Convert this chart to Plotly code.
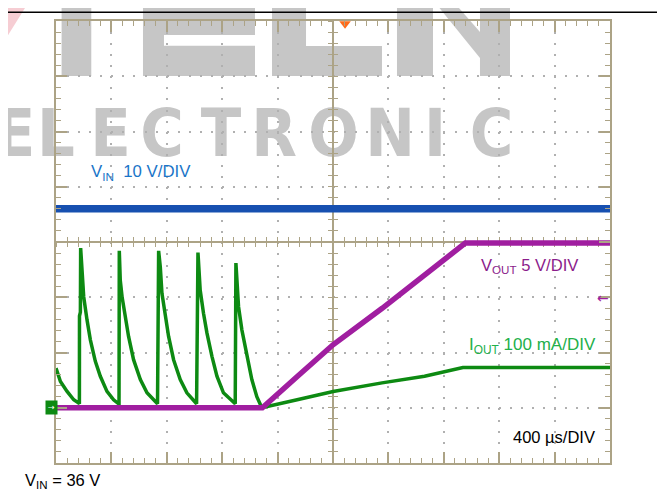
import plotly.graph_objects as go

# ---------------- data ----------------
TIME_RANGE_US = [0, 4000]      # 10 div x 400 us/div
TRIGGER_T_US = 2087

VIN_T_US = [0, 4000]
VIN_V = [36.0, 36.0]

VOUT_T_US = [0, 1490, 1740, 2000, 2355, 2665, 2955, 4000]
VOUT_V = [0, 0, 2.8, 5.7, 9.0, 12.0, 14.9, 14.9]

IOUT_T_US = [0, 32, 80, 128, 164,
             169, 169.5, 176, 178, 183, 194, 200, 224, 248, 284, 320, 368, 416, 452,
             455, 457, 464, 477, 500, 524, 560, 609, 657, 729,
             733, 741, 753, 765, 789, 813, 849, 897, 945, 1005,
             1015, 1025, 1036, 1041, 1065, 1090, 1126, 1162, 1209, 1282,
             1294, 1299, 1310, 1318, 1342, 1378, 1414, 1450, 1486,
             1741, 2001, 2354, 2661, 2938, 4000]
IOUT_MA = [71.7, 47.5, 29.5, 14.5, 8.5,
           7.2, 166, 173, 289, 264, 222, 201, 159, 123, 84, 57, 29.5, 14.5, 7.2,
           7.2, 284, 231, 201, 165, 129, 87, 51, 27, 8.5,
           7.2, 284, 255, 207, 165, 129, 87, 51, 27, 9.6,
           7.2, 281, 243, 213, 171, 135, 93, 57, 27, 8.5,
           7.2, 262, 225, 183, 141, 93, 51, 20, 0,
           14.5, 29.5, 45, 57, 73, 73]

# channel scales (per division); all grounds sit 1 div above the bottom
DIVS_Y = 8
VIN_RANGE = [-10, 70]      # 10 V/div
VOUT_RANGE = [-5, 35]      # 5 V/div
IOUT_RANGE = [-100, 700]   # 100 mA/div

WATERMARK_LETTERS = ["E", "L", "E", "C", "T", "R", "O", "N", "I", "C"]
WATERMARK_X_PX = [15, 56, 110.5, 162, 221, 274, 333.5, 390, 435, 491.5]

# ---------------- layout helpers (window pixel coords) ----------------
WIN_W, WIN_H = 665, 495
OFF = 8                       # default body margin of the html page
PL, PR, PT, PB = 56, 610, 21, 463   # plot area edges in window pixels
W, H = WIN_W - OFF, WIN_H - OFF
ML, MT = PL - OFF, PT - OFF
MR, MB = W - (PR - OFF), H - (PB - OFF)
PW, PH = PR - PL, PB - PT


def PX(x):
    return (x - PL) / PW


def PY(y):
    return (PB - y) / PH


def poly(pts):
    return "M " + " L ".join(f"{PX(x):.4f},{PY(y):.4f}" for x, y in pts) + " Z"


TAN = "#aca386"
DOT = "#b0b0b0"
BLUE = "#1750b0"
PURPLE = "#a01ea0"
GREEN = "#0d8a12"
GREY_WM = "#c6c6c6"

fig = go.Figure()

# helper traces so the centre (free) axes exist
for xa, ya in [("x2", "y"), ("x3", "y"), ("x", "y5"), ("x", "y6")]:
    fig.add_trace(go.Scatter(x=[None], y=[None], xaxis=xa, yaxis=ya,
                             showlegend=False, hoverinfo="skip"))

# trigger marker
fig.add_trace(go.Scatter(x=[TRIGGER_T_US], y=[DIVS_Y - 0.05], mode="markers",
                         marker=dict(symbol="triangle-down", size=10, color="#ff6b1a"),
                         cliponaxis=False, showlegend=False, hoverinfo="skip",
                         xaxis="x", yaxis="y"))

fig.add_trace(go.Scatter(x=IOUT_T_US, y=IOUT_MA, mode="lines",
                         line=dict(color=GREEN, width=3.5), xaxis="x", yaxis="y2",
                         showlegend=False, name="IOUT"))
fig.add_trace(go.Scatter(x=VOUT_T_US, y=VOUT_V, mode="lines",
                         line=dict(color=PURPLE, width=5.5), xaxis="x", yaxis="y3",
                         showlegend=False, name="VOUT"))
fig.add_trace(go.Scatter(x=VIN_T_US, y=VIN_V, mode="lines",
                         line=dict(color=BLUE, width=7.5), xaxis="x", yaxis="y4",
                         showlegend=False, name="VIN"))

border_common = dict(showline=True, linecolor=TAN, linewidth=2, mirror="ticks",
                     ticks="inside", ticklen=11, tickwidth=1.5, tickcolor=TAN,
                     showticklabels=False, zeroline=False, showgrid=True,
                     gridcolor=DOT, gridwidth=2, griddash="2px,9.07px",
                     fixedrange=True)

center_common = dict(showline=True, linecolor=TAN, linewidth=1.5, ticklen=4.5,
                     tickwidth=1, tickcolor=TAN, showticklabels=False,
                     zeroline=False, showgrid=False, layer="below traces",
                     anchor="free", position=0.5, fixedrange=True)

fig.update_layout(
    width=W, height=H, autosize=False,
    margin=dict(l=ML, r=MR, t=MT, b=MB, pad=0),
    paper_bgcolor="white", plot_bgcolor="rgba(0,0,0,0)",
    showlegend=False,
    xaxis=dict(range=TIME_RANGE_US, dtick=400, tick0=0, domain=[0, 1],
               minor=dict(dtick=80, tick0=0, ticks="inside", ticklen=5,
                          tickcolor=TAN, tickwidth=1.2, showgrid=False),
               **border_common),
    yaxis=dict(range=[0, DIVS_Y], dtick=1, tick0=0, domain=[0, 1],
               minor=dict(dtick=0.2, tick0=0, ticks="inside", ticklen=5,
                          tickcolor=TAN, tickwidth=1.2, showgrid=False),
               **border_common),
    yaxis2=dict(range=IOUT_RANGE, overlaying="y", visible=False, fixedrange=True),
    yaxis3=dict(range=VOUT_RANGE, overlaying="y", visible=False, fixedrange=True),
    yaxis4=dict(range=VIN_RANGE, overlaying="y", visible=False, fixedrange=True),
    xaxis2=dict(range=TIME_RANGE_US, overlaying="x", dtick=400, tick0=0, ticks="inside",
                minor=dict(dtick=80, tick0=0, ticks="inside", ticklen=4.5,
                           tickcolor=TAN, tickwidth=1, showgrid=False),
                **center_common),
    xaxis3=dict(range=TIME_RANGE_US, overlaying="x", dtick=400, tick0=0, ticks="outside",
                minor=dict(dtick=80, tick0=0, ticks="outside", ticklen=4.5,
                           tickcolor=TAN, tickwidth=1, showgrid=False),
                **center_common),
    yaxis5=dict(range=[0, DIVS_Y], overlaying="y", dtick=1, tick0=0, ticks="inside",
                minor=dict(dtick=0.2, tick0=0, ticks="inside", ticklen=4.5,
                           tickcolor=TAN, tickwidth=1, showgrid=False),
                **center_common),
    yaxis6=dict(range=[0, DIVS_Y], overlaying="y", dtick=1, tick0=0, ticks="outside",
                minor=dict(dtick=0.2, tick0=0, ticks="outside", ticklen=4.5,
                           tickcolor=TAN, tickwidth=1, showgrid=False),
                **center_common),
)

# ---------------- watermark (below grid) ----------------
wm = dict(type="path", xref="paper", yref="paper", fillcolor=GREY_WM,
          line=dict(width=0), layer="below")
fig.add_shape(path=poly([(0, 20), (12, 0), (30, 0), (0, 48)]),
              **{**wm, "fillcolor": "#f6cdd3"})
fig.add_shape(path=poly([(61.6, 0), (91.3, 0), (91.3, 76), (61.6, 76)]), **wm)
fig.add_shape(path=poly([(143, 0), (255, 0), (255, 35), (164, 35), (164, 45.7),
                         (255, 45.7), (255, 76), (143, 76)]), **wm)
fig.add_shape(path=poly([(272, 0), (306, 0), (306, 46), (382, 46), (382, 76), (272, 76)]), **wm)
fig.add_shape(path=poly([(397, 0), (433, 0), (433, 76), (397, 76)]), **wm)
fig.add_shape(path=poly([(433, 0), (452, 0), (480, 32), (480, 58)]), **wm)
fig.add_shape(path=poly([(480, 0), (510, 0), (510, 76), (480, 76)]), **wm)

for ch, cx in zip(WATERMARK_LETTERS, WATERMARK_X_PX):
    fig.add_shape(type="rect", xref="paper", yref="paper",
                  x0=PX(cx - 28), x1=PX(cx + 28), y0=PY(163), y1=PY(94),
                  line=dict(width=0), fillcolor="rgba(0,0,0,0)", layer="below",
                  label=dict(text=ch, textposition="middle center",
                             font=dict(family="DejaVu Sans Condensed, Liberation Sans, Arial",
                                       size=66, color=GREY_WM, weight="bold")))

# frame lines of the picture
fig.add_shape(type="line", xref="paper", yref="paper", x0=PX(0), x1=PX(662),
              y0=PY(12.3), y1=PY(12.3), line=dict(color="black", width=1.5))
fig.add_shape(type="line", xref="paper", yref="paper", x0=PX(662), x1=PX(662),
              y0=PY(0), y1=PY(12.3), line=dict(color="black", width=1.5))

# ---------------- labels ----------------
FONT = "Liberation Sans, Arial, sans-serif"
fig.add_annotation(x=PX(89), y=PY(172), xref="paper", yref="paper", xanchor="left",
                   yanchor="middle", showarrow=False,
                   text="V<sub>IN</sub>  10 V/DIV", font=dict(family=FONT, size=16.8, color="#1a75c8"))
fig.add_annotation(x=PX(479), y=PY(266), xref="paper", yref="paper", xanchor="left",
                   yanchor="middle", showarrow=False,
                   text="V<sub>OUT</sub> 5 V/DIV", font=dict(family=FONT, size=16.6, color="#8b1c8b"))
fig.add_annotation(x=PX(467), y=PY(346), xref="paper", yref="paper", xanchor="left",
                   yanchor="middle", showarrow=False,
                   text="I<sub>OUT</sub> 100 mA/DIV", font=dict(family=FONT, size=17, color="#22b04a"))
fig.add_annotation(x=PX(597), y=PY(437), xref="paper", yref="paper", xanchor="right",
                   yanchor="middle", showarrow=False,
                   text="400 µs/DIV", font=dict(family=FONT, size=16.5, color="black"))
fig.add_annotation(x=PX(23), y=PY(481), xref="paper", yref="paper", xanchor="left",
                   yanchor="middle", showarrow=False,
                   text="V<sub>IN</sub> = 36 V", font=dict(family=FONT, size=16.5, color="black"))
fig.add_annotation(x=PX(602.5), y=PY(297.7), xref="paper", yref="paper", xanchor="center",
                   yanchor="middle", showarrow=False,
                   text="←", font=dict(family="DejaVu Sans, sans-serif", size=14, color=PURPLE))
fig.add_annotation(x=PX(51), y=0, xref="paper", yref="y2", xanchor="center",
                   yanchor="middle", showarrow=False, bgcolor=GREEN, borderpad=2,
                   text="→", font=dict(family="DejaVu Sans, sans-serif", size=8, color="white"))

fig.write_html("out.html")
